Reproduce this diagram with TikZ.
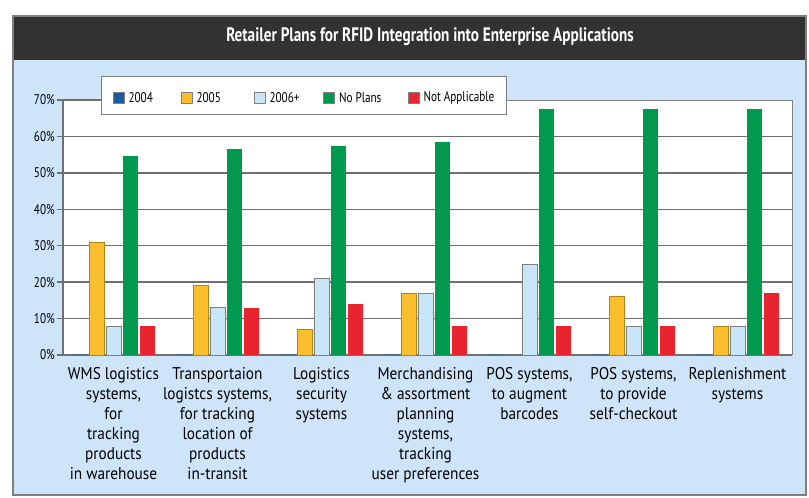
\documentclass[tikz,border=0pt]{standalone}
\usepackage{fontspec}
\setmainfont{PT Sans}
\newfontfamily\narrowfont[FakeStretch=0.9]{PT Sans}
\newfontfamily\tightfont[FakeStretch=0.8]{PT Sans}
\newfontfamily\titlefont[FakeStretch=0.78]{PT Sans Bold}
\usetikzlibrary{positioning}

\definecolor{panelblue}{HTML}{CDE4F9}
\definecolor{titlegray}{HTML}{333132}
\definecolor{gridgray}{HTML}{707070}
\definecolor{c2004}{HTML}{1B5A9C}
\definecolor{c2005}{HTML}{FBBE2C}
\definecolor{c2006}{HTML}{C9E6F8}
\definecolor{cnone}{HTML}{00994D}
\definecolor{cna}{HTML}{E7252F}

\tikzset{
  legsq/.style={draw=gray, line width=0.6pt, minimum size=11pt, inner sep=0pt},
  legtext/.style={font=\tightfont\fontsize{14}{14}\selectfont, inner sep=0pt},
  ticklab/.style={font=\tightfont\fontsize{14}{14}\selectfont, anchor=east, inner sep=0pt},
  catlab/.style={font=\narrowfont\fontsize{17}{20}\selectfont, align=center, anchor=north, inner sep=0pt},
  gridline/.style={gridgray, line width=1.3pt},
}

\begin{document}
\begin{tikzpicture}[x=1pt,y=-1pt]
        \useasboundingbox (0,0) rectangle (809,498);

        % frame
        \fill[panelblue] (13,60) rectangle (806,495);
        \fill[titlegray] (13,16) rectangle (806,60);
        \draw[gray, line width=1.5pt] (13,16) rectangle (806,495);
        \node[font=\titlefont\fontsize{19.5}{19.5}\selectfont, text=white] (title) at (430,37) {Retailer Plans for RFID Integration into Enterprise Applications};

        % plot area
        \fill[white] (63,100) rectangle (792,355);
        \draw[gray, line width=0.8pt] (63,100) -- (792,100) -- (792,355);
        \foreach \p in {10,20,...,60}
          \draw[gridline] (63,355-3.643*\p) -- (792,355-3.643*\p);
        \foreach \p in {0,10,...,70} {
          \draw[gridline] (57,355-3.643*\p) -- (63,355-3.643*\p);
          \node[ticklab] (t\p) at (55,355-3.643*\p) {\p\%};
        }
        \draw[gridline] (63,100) -- (63,355) -- (792,355);
        \draw[gridline] (63,100) -- (101,100);

        % bars
        \foreach \g/\b/\c/\d/\e in {0/31/8/54.5/8, 1/19/13/56.5/13, 2/7/21/57.5/14,
                                    3/17/17/58.5/8, 4/0/25/67.5/8, 5/16/8/67.5/8, 6/8/8/67.5/17} {
          \pgfmathsetmacro\xg{72+104*\g}
          \draw[draw=gridgray!70!c2004, line width=1pt] (\xg,354.5) -- ++(15,0);
          \ifdim \b pt > 0pt
            \draw[fill=c2005, draw=c2005!70!black, line width=0.6pt] (\xg+17,355) rectangle ++(15,-3.643*\b);
          \else
            \draw[draw=gridgray, line width=1pt] (\xg+17,354.5) -- ++(15,0);
          \fi
          \draw[fill=c2006, draw=gray, line width=0.6pt] (\xg+34,355) rectangle ++(15,-3.643*\c);
          \fill[cnone] (\xg+51,355) rectangle ++(15,-3.643*\d);
          \fill[cna] (\xg+68,355) rectangle ++(15,-3.643*\e);
        }

        % legend
        \node[draw=gray, fill=white, line width=0.8pt, minimum width=405pt, minimum height=38pt, inner sep=0pt, anchor=north west] (legend) at (101,76) {};
        \node[legsq, fill=c2004] (sq2004) at (118.5,97.5) {};
        \node[legtext, right=4pt of sq2004] (l2004) {2004};
        \node[legsq, fill=c2005] (sq2005) at (186.5,97.5) {};
        \node[legtext, right=4pt of sq2005] (l2005) {2005};
        \node[legsq, fill=c2006] (sq2006) at (259.5,97.5) {};
        \node[legtext, right=4pt of sq2006] (l2006) {2006+};
        \node[legsq, fill=cnone] (sqnone) at (329,97.5) {};
        \node[legtext, right=4pt of sqnone] (lnone) {No Plans};
        \node[legsq, fill=cna] (sqna) at (413.5,97.5) {};
        \node[legtext, right=4pt of sqna] (lna) {Not Applicable};

        % category labels
        \node[catlab] (cat1) at (113.5,367) {WMS logistics\\systems,\\for\\tracking\\products\\in warehouse};
        \node[catlab] (cat2) at (217.5,367) {Transportaion\\logistcs systems,\\for tracking\\location of\\products\\in-transit};
        \node[catlab] (cat3) at (321.5,367) {Logistics\\security\\systems};
        \node[catlab] (cat4) at (425.5,367) {Merchandising\\\& assortment\\planning\\systems,\\tracking\\user preferences};
        \node[catlab] (cat5) at (529.5,367) {POS systems,\\to augment\\barcodes};
        \node[catlab] (cat6) at (633.5,367) {POS systems,\\to provide\\self-checkout};
        \node[catlab] (cat7) at (737.5,367) {Replenishment\\systems};

    \end{tikzpicture}
\end{document}
